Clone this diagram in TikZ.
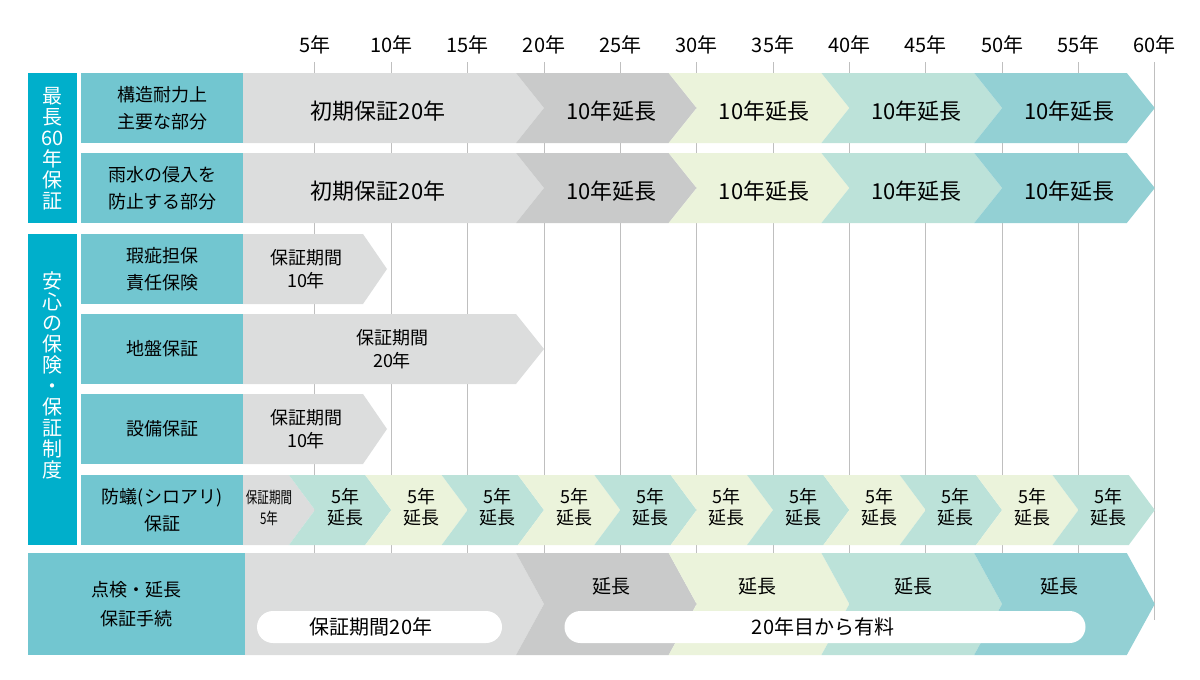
\documentclass[tikz,border=0pt]{standalone}
\usepackage{fontspec}
\setmainfont{Noto Sans CJK JP}
\usepackage{graphicx}
\usepackage{tikz}
\usetikzlibrary{positioning}

\definecolor{darkteal}{HTML}{00AFCB}
\definecolor{labelteal}{HTML}{72C6D0}
\definecolor{grayA}{HTML}{DCDDDD}
\definecolor{grayB}{HTML}{C9CACA}
\definecolor{cream}{HTML}{EBF3DB}
\definecolor{mint}{HTML}{BCE2D9}
\definecolor{tealC}{HTML}{93D0D4}
\definecolor{gridgray}{HTML}{BFBFBF}

% x position of a year on the time axis
\pgfmathdeclarefunction{gx}{1}{\pgfmathparse{238.6+15.27*#1}}
% chevron: colour, left tip, right tip, top, bottom, depth, left depth
\newcommand{\chevseg}[7]{\fill[#1] ({#2-#7},#4) -- ({#3-#6},#4) -- ({#3},{(#4+#5)/2})
  -- ({#3-#6},#5) -- ({#2-#7},#5) -- ({#2},{(#4+#5)/2}) -- cycle;}

\begin{document}
\begin{tikzpicture}[x=1pt,y=-1pt,
    gridline/.style={draw=gridgray, line width=1pt},
    yearlabel/.style={font=\fontsize{20}{20}\selectfont, inner sep=0pt},
    groupbox/.style={fill=darkteal, minimum width=49pt, inner sep=0pt},
    grouptext/.style={align=center, text=white, font=\fontsize{20}{21}\selectfont, inner sep=0pt},
    rowlabel/.style={fill=labelteal, align=center, inner sep=0pt, minimum width=162pt,
      minimum height=70pt, font=\fontsize{18}{27}\selectfont},
    bartext/.style={font=\fontsize{22}{22}\selectfont, inner sep=0pt},
    periodtext/.style={align=center, font=\fontsize{18}{23}\selectfont, inner sep=0pt},
    exttext/.style={align=center, font=\fontsize{18}{21}\selectfont, inner sep=0pt},
    pill/.style={fill=white, rounded corners=16pt, minimum height=32pt, inner sep=0pt},
    pilltext/.style={font=\fontsize{20}{20}\selectfont, inner sep=0pt}]
    \useasboundingbox (0,0) rectangle (1200,680);

    \foreach \y in {5,10,...,60} {
      \draw[gridline] ({gx(\y)},62) -- ({gx(\y)},620);
      \node[yearlabel] (yr\y) at ({gx(\y)},45) {\y 年};
    }

    % main structure and rain water rows
    \foreach \t/\r in {73/1,153/2} {
      \pgfmathsetmacro{\b}{\t+70}
      \chevseg{grayA}{243}{gx(20)}{\t}{\b}{28}{0}
      \foreach \ya/\yb/\col in {20/30/grayB,30/40/cream,40/50/mint,50/60/tealC} {
        \chevseg{\col}{gx(\ya)}{gx(\yb)}{\t}{\b}{28}{28}
        \node[bartext] (r\r s\ya) at ({gx((\ya+\yb)/2)-9},{\t+38}) {10年延長};
      }
      \node[bartext] (r\r s0) at (378,{\t+38}) {初期保証20年};
    }

    \chevseg{grayA}{243}{387}{234}{304}{24}{0}
    \chevseg{grayA}{243}{gx(20)}{314}{384}{28}{0}
    \chevseg{grayA}{243}{387}{394}{464}{24}{0}
    \node[periodtext] (r3s0) at (306,269) {保証期間\\10年};
    \node[periodtext] (r4s0) at (392,349) {保証期間\\20年};
    \node[periodtext] (r5s0) at (306,429) {保証期間\\10年};

    % termite row
    \chevseg{grayA}{243}{gx(5)}{475}{545}{26}{0}
    \foreach \ya/\col in {5/mint,10/cream,15/mint,20/cream,25/mint,30/cream,35/mint,40/cream,45/mint,50/cream,55/mint} {
      \chevseg{\col}{gx(\ya)}{gx(\ya+5)}{475}{545}{26}{26}
      \node[exttext] (r6s\ya) at ({gx(\ya+2.5)-8},507) {5年\\延長};
    }
    \node[exttext, font=\fontsize{16}{21}\selectfont] (r6s0) at (269,508)
      {\scalebox{0.72}[1]{保証期間}\\\scalebox{0.72}[1]{5年}};

    % inspection row
    \chevseg{grayA}{245}{gx(20)}{553}{655}{28}{0}
    \foreach \ya/\yb/\col/\tx in {20/30/grayB/611,30/40/cream/757,40/50/mint/913,50/60/tealC/1059} {
      \chevseg{\col}{gx(\ya)}{gx(\yb)}{553}{655}{28}{28}
      \node[pilltext, font=\fontsize{19}{19}\selectfont] (r7s\ya) at (\tx,586) {延長};
    }
    \node[pill, minimum width=245pt] (pillA) at (379.5,627) {};
    \node[pilltext] (pillAtext) at (371,627) {保証期間20年};
    \node[pill, minimum width=521pt] (pillB) at (825,627) {};
    \node[pilltext] (pillBtext) at (823,627) {20年目から有料};

    % left labels
    \node[groupbox, minimum height=150pt] (grpA) at (52.5,148) {};
    \node[grouptext] (grpAtext) at (52.5,149) {最\\長\\60\\年\\保\\証};
    \node[groupbox, minimum height=311pt] (grpB) at (52.5,389.5) {};
    \node[grouptext] (grpBtext) at (52.5,375) {安\\心\\の\\保\\険\\・\\保\\証\\制\\度};

    \node[rowlabel] (lab1) at (162,108) {構造耐力上\\主要な部分};
    \node[rowlabel] (lab2) at (162,188) {雨水の侵入を\\防止する部分};
    \node[rowlabel] (lab3) at (162,269) {瑕疵担保\\責任保険};
    \node[rowlabel] (lab4) at (162,349) {地盤保証};
    \node[rowlabel] (lab5) at (162,429) {設備保証};
    \node[rowlabel] (lab6) at (162,510) {防蟻(シロアリ)\\保証};
    \node[rowlabel, minimum width=217pt, minimum height=102pt, font=\fontsize{18}{29}\selectfont]
      (lab7) at (136.5,604) {点検・延長\\保証手続};
\end{tikzpicture}
\end{document}
